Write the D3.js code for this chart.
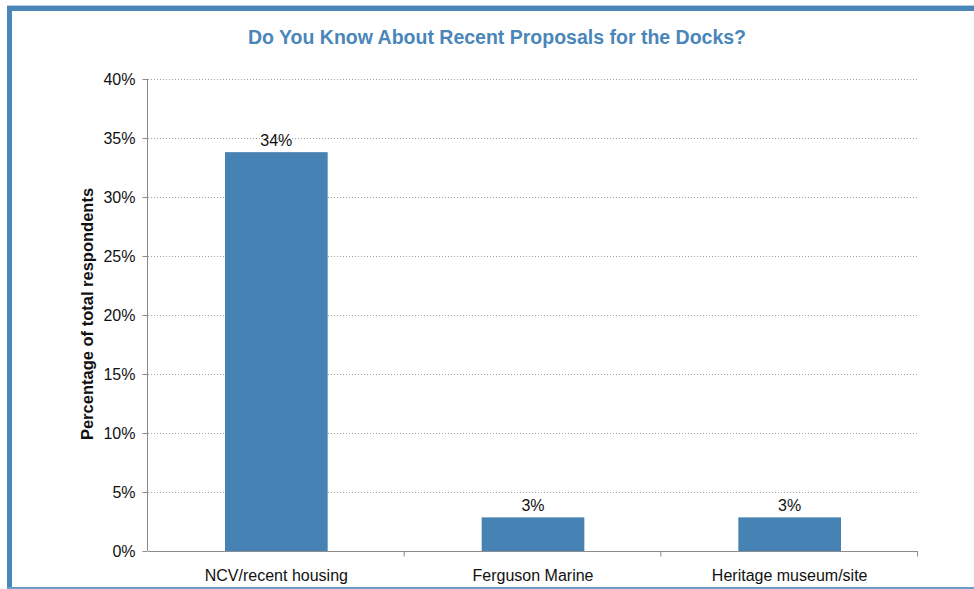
<!DOCTYPE html>
<html>
<head>
<meta charset="utf-8">
<script src="https://cdn.jsdelivr.net/npm/d3@7"></script>
<style>
  body { margin: 0; background: #fff; }
  svg { display: block; font-family: "Liberation Sans", Arial, sans-serif; }
</style>
</head>
<body>
<svg id="chart" width="974" height="589"></svg>
<script>
// data
var categories = ["NCV/recent housing", "Ferguson Marine", "Heritage museum/site"];
var values = [33.8, 2.85, 2.85];
var labels = ["34%", "3%", "3%"];
var yTicks = [0, 5, 10, 15, 20, 25, 30, 35, 40];

var svg = d3.select("#chart");
var blue = "#4682b4";

// frame
svg.append("line").attr("x1", 7).attr("x2", 974).attr("y1", 5.5).attr("y2", 5.5)
    .style("stroke", "#b9cde0").style("stroke-width", 1);
svg.append("rect").attr("x", 7).attr("y", 6).attr("width", 967).attr("height", 5).style("fill", "#4a86b9");
svg.append("rect").attr("x", 7).attr("y", 6).attr("width", 5).attr("height", 583).style("fill", "#4a86b9");
svg.append("rect").attr("x", 7).attr("y", 587).attr("width", 967).attr("height", 2).style("fill", "#6a9cc8");

var pLeft = 148, pRight = 918, pTop = 79, pBottom = 551;

var x = d3.scaleBand()
    .domain(categories)
    .range([pLeft, pRight])
    .paddingInner(0.6)
    .paddingOuter(0.3);

var y = d3.scaleLinear()
    .domain([0, 40])
    .range([pBottom, pTop]);

// title
svg.append("text")
    .attr("x", 497).attr("y", 44)
    .attr("text-anchor", "middle")
    .style("font-size", "19.5px").style("font-weight", "bold")
    .style("fill", "#4a86b9")
    .text("Do You Know About Recent Proposals for the Docks?");

// grid lines
svg.append("g").selectAll("line")
    .data(yTicks.filter(function(d) { return d > 0; }))
    .enter().append("line")
    .attr("x1", pLeft).attr("x2", pRight)
    .attr("y1", function(d) { return y(d) + 0.5; })
    .attr("y2", function(d) { return y(d) + 0.5; })
    .style("stroke", "#a0a0a0")
    .style("stroke-width", 1)
    .style("stroke-dasharray", "1,2");

// bars
svg.append("g").selectAll("rect")
    .data(values)
    .enter().append("rect")
    .attr("x", function(d, i) { return x(categories[i]); })
    .attr("width", x.bandwidth())
    .attr("y", function(d) { return y(d); })
    .attr("height", function(d) { return y(0) - y(d); })
    .style("fill", blue);

// value labels
svg.append("g").selectAll("text")
    .data(values)
    .enter().append("text")
    .attr("x", function(d, i) { return x(categories[i]) + x.bandwidth() / 2; })
    .attr("y", function(d) { return y(d) - 6; })
    .attr("text-anchor", "middle")
    .style("font-size", "16px").style("fill", "#111")
    .text(function(d, i) { return labels[i]; });

// y axis
var yAxis = svg.append("g")
    .attr("transform", "translate(" + (pLeft - 0.5) + ",0)")
    .call(d3.axisLeft(y).tickValues(yTicks).tickSize(5).tickPadding(7)
        .tickFormat(function(d) { return d + "%"; }));
yAxis.select(".domain").attr("d", "M0," + pTop + "V" + pBottom);
yAxis.selectAll("line, path").style("stroke", "#8c8c8c");
yAxis.selectAll("text").style("font-size", "16px").style("fill", "#111").style("font-family", "inherit");

// x axis
var xAxis = svg.append("g")
    .attr("transform", "translate(0," + (pBottom + 0.5) + ")")
    .call(d3.axisBottom(x).tickSize(0).tickPadding(18));
xAxis.select(".domain").attr("d", "M" + pLeft + ",0H" + pRight).style("stroke", "#8c8c8c");
xAxis.selectAll("text").style("font-size", "16px").style("fill", "#111").style("font-family", "inherit");
// category boundary ticks
var step = x.step();
xAxis.selectAll(".bound")
    .data(d3.range(1, categories.length + 1))
    .enter().append("line")
    .attr("x1", function(d) { return pLeft + d * step - 0.5; })
    .attr("x2", function(d) { return pLeft + d * step - 0.5; })
    .attr("y1", 0).attr("y2", 5)
    .style("stroke", "#8c8c8c");

// y axis title
svg.append("text")
    .attr("transform", "translate(93,314) rotate(-90)")
    .attr("text-anchor", "middle")
    .style("font-size", "16.5px").style("font-weight", "bold").style("fill", "#111")
    .text("Percentage of total respondents");
</script>
</body>
</html>
